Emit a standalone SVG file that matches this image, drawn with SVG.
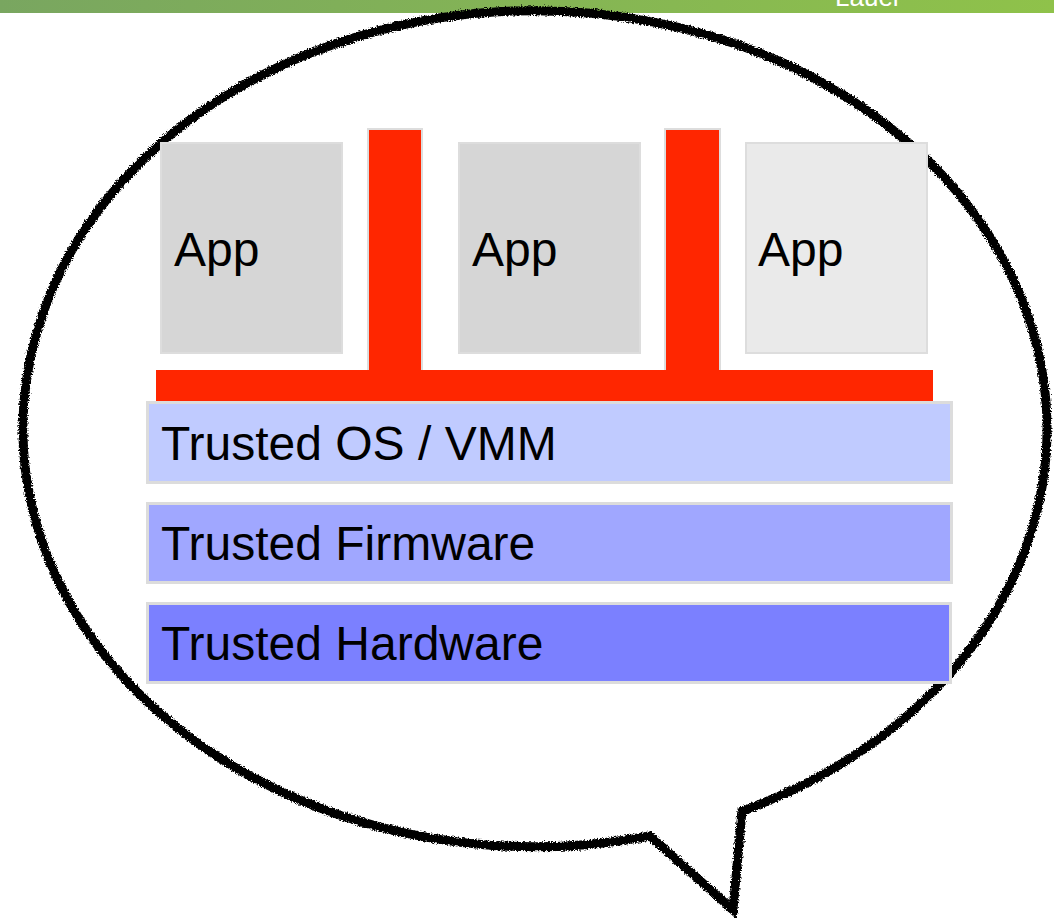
<svg xmlns="http://www.w3.org/2000/svg" width="1054" height="918" viewBox="0 0 1054 918">
  <style>
    .label { font-family: "Liberation Sans", Arial, sans-serif; font-size: 48px; fill: #000; }
    .app { stroke: #dddddd; stroke-width: 2; }
    .layer { stroke: #dcdcdc; stroke-width: 3; }
    .red { fill: #ff2600; }
    .post { fill: #ff2600; stroke: #dddddd; stroke-width: 2; }
  </style>
  <defs>
    <linearGradient id="band" x1="0" y1="0" x2="1" y2="0">
      <stop offset="0" stop-color="#79a660"/>
      <stop offset="1" stop-color="#8fc24a"/>
    </linearGradient>
    <!-- chalky brush texture for the speech bubble outline -->
    <filter id="chalk" filterUnits="userSpaceOnUse" x="0" y="0" width="1054" height="918">
      <feTurbulence type="fractalNoise" baseFrequency="0.7" numOctaves="2" seed="3" result="noise"/>
      <feDisplacementMap in="SourceGraphic" in2="noise" scale="5" xChannelSelector="R" yChannelSelector="G"/>
    </filter>
  </defs>

  <rect width="1054" height="918" fill="#ffffff"/>

  <!-- header band -->
  <g id="header">
    <rect x="0" y="0" width="1054" height="13" fill="url(#band)"/>
    <text x="835" y="6" font-family="'Liberation Sans', Arial, sans-serif" font-size="26" fill="#ffffff">Lauer</text>
  </g>

  <!-- speech bubble -->
  <g id="bubble">
    <path d="M 742 811 A 512 418 0 1 0 650 836 L 733 910 Z" fill="none" stroke="#000" stroke-width="9" stroke-linejoin="miter" filter="url(#chalk)"/>
  </g>

  <!-- applications -->
  <g id="app1">
    <rect class="app" x="161" y="143" width="181" height="210" fill="#d6d6d6"/>
    <text class="label" x="174" y="266">App</text>
  </g>
  <g id="app2">
    <rect class="app" x="459" y="143" width="181" height="210" fill="#d6d6d6"/>
    <text class="label" x="472" y="266">App</text>
  </g>
  <g id="app3">
    <rect class="app" x="746" y="143" width="181" height="210" fill="#eaeaea"/>
    <text class="label" x="758" y="266">App</text>
  </g>

  <!-- isolation barrier -->
  <g id="barrier">
    <rect class="post" x="368" y="129" width="54" height="250"/>
    <rect class="post" x="665" y="129" width="55" height="250"/>
    <rect class="red" x="156" y="370" width="777" height="33"/>
  </g>

  <!-- trusted layers -->
  <g id="os">
    <rect class="layer" x="147.5" y="402.5" width="804" height="80" fill="#c0cbff"/>
    <text class="label" x="161" y="460">Trusted OS / VMM</text>
  </g>
  <g id="firmware">
    <rect class="layer" x="147.5" y="503.5" width="804" height="79" fill="#a0a7ff"/>
    <text class="label" x="161" y="560">Trusted Firmware</text>
  </g>
  <g id="hardware">
    <rect class="layer" x="147.5" y="603.5" width="803" height="79" fill="#7b80ff"/>
    <text class="label" x="161" y="660">Trusted Hardware</text>
  </g>
</svg>
